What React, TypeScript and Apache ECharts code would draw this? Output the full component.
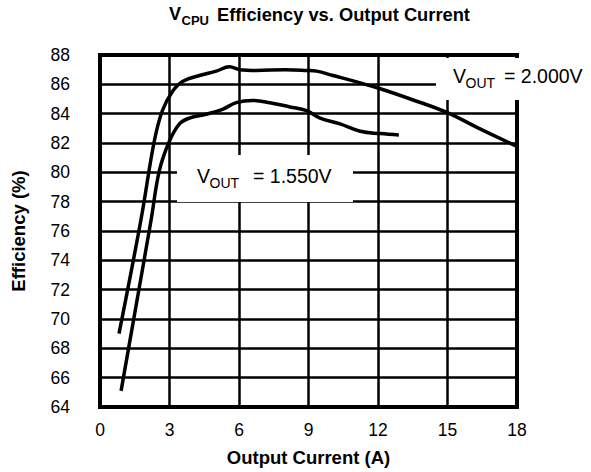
import React, { useEffect, useRef } from "react";
import * as echarts from "echarts";

// Output current (A) and efficiency (%)
const x200: number[] = [0.82, 1.76, 2.34, 2.69, 3.12, 3.56, 4.29, 5.02, 5.59, 6.03, 6.75, 8.0, 8.92, 9.35, 10.06, 11.23, 12.1, 13.4, 14.99, 16.29, 17.95];
const y200: number[] = [69.0, 76.7, 82.1, 84.2, 85.5, 86.2, 86.6, 86.9, 87.2, 87.0, 86.95, 87.0, 86.95, 86.9, 86.6, 86.1, 85.7, 85.0, 84.07, 83.05, 81.8];
const x155: number[] = [0.91, 2.2, 2.56, 2.99, 3.43, 3.86, 4.58, 5.29, 5.88, 6.59, 7.33, 8.2, 8.92, 9.5, 10.36, 11.23, 12.1, 12.9];
const y155: number[] = [65.1, 76.7, 80.1, 82.1, 83.3, 83.7, 83.96, 84.3, 84.75, 84.9, 84.75, 84.46, 84.2, 83.7, 83.3, 82.8, 82.64, 82.55];

const xTicks: number[] = [0, 3, 6, 9, 12, 15, 18];
const yTicks: number[] = [64, 66, 68, 70, 72, 74, 76, 78, 80, 82, 84, 86, 88];

const FONT = "'Liberation Sans', Arial, Helvetica, sans-serif";

function pairs(xs: number[], ys: number[]): number[][] {
  return xs.map((x, i) => [x, ys[i]]);
}

function annotation(x: number, y: number, w: number, h: number, vx: number, eqx: number, value: string) {
  return {
    type: "group",
    x,
    y,
    z: 100,
    children: [
      { type: "rect", shape: { x: 0, y: 0, width: w, height: h }, style: { fill: "#fff" }, z: 100 },
      { type: "text", x: vx, y: h / 2 + 7, style: { text: "V", font: `19.5px ${FONT}`, fill: "#000", textVerticalAlign: "bottom" }, z: 101 },
      { type: "text", x: vx + 12.5, y: h / 2 + 11, style: { text: "OUT", font: `14px ${FONT}`, fill: "#000", textVerticalAlign: "bottom" }, z: 101 },
      { type: "text", x: eqx, y: h / 2 + 7, style: { text: value, font: `19.5px ${FONT}`, fill: "#000", textVerticalAlign: "bottom" }, z: 101 },
    ],
  };
}

export default function App() {
  const ref = useRef<HTMLDivElement>(null);
  useEffect(() => {
    if (!ref.current) return;
    const chart = echarts.init(ref.current, null, { renderer: "svg" });
    const option = {
      animation: false,
      backgroundColor: "#fff",
      grid: { left: 100, right: 74, top: 55, bottom: 64, show: true, borderColor: "#000", borderWidth: 4, backgroundColor: "transparent" },
      xAxis: {
        type: "value",
        min: xTicks[0],
        max: xTicks[xTicks.length - 1],
        interval: 3,
        name: "Output Current (A)",
        nameLocation: "middle",
        nameGap: 41,
        nameTextStyle: { fontFamily: FONT, fontWeight: "bold", fontSize: 18.5, color: "#000" },
        axisLine: { show: false },
        axisTick: { show: false },
        axisLabel: { color: "#000", fontFamily: FONT, fontSize: 17.5, margin: 14 },
        splitLine: { show: true, lineStyle: { color: "#000", width: 2.5 } },
      },
      yAxis: {
        type: "value",
        min: yTicks[0],
        max: yTicks[yTicks.length - 1],
        interval: 2,
        name: "Efficiency (%)",
        nameLocation: "middle",
        nameGap: 72,
        nameTextStyle: { fontFamily: FONT, fontWeight: "bold", fontSize: 18.5, color: "#000" },
        axisLine: { show: false },
        axisTick: { show: false },
        axisLabel: { color: "#000", fontFamily: FONT, fontSize: 17.5, margin: 30 },
        splitLine: { show: true, lineStyle: { color: "#000", width: 2.5 } },
      },
      series: [
        {
          name: "VOUT = 2.000V",
          type: "line",
          data: pairs(x200, y200),
          smooth: 0.4,
          showSymbol: false,
          lineStyle: { color: "#000", width: 3.5 },
          z: 5,
        },
        {
          name: "VOUT = 1.550V",
          type: "line",
          data: pairs(x155, y155),
          smooth: 0.4,
          showSymbol: false,
          lineStyle: { color: "#000", width: 3.5 },
          z: 5,
        },
      ],
      graphic: [
        {
          type: "group",
          x: 169,
          y: 23,
          z: 100,
          children: [
            { type: "text", x: 0, y: 0, style: { text: "V", font: `bold 18px ${FONT}`, fill: "#000", textVerticalAlign: "bottom" } },
            { type: "text", x: 12.5, y: 4, style: { text: "CPU", font: `bold 13px ${FONT}`, fill: "#000", textVerticalAlign: "bottom" } },
            { type: "text", x: 48, y: 0, style: { text: "Efficiency vs. Output Current", font: `bold 18.3px ${FONT}`, fill: "#000", textVerticalAlign: "bottom" } },
          ],
        },
        annotation(177, 155, 176, 47, 20, 76, "= 1.550V"),
        annotation(436, 58, 160, 42, 17, 68, "= 2.000V"),
      ],
    };
    chart.setOption(option as any);
    return () => chart.dispose();
  }, []);
  return <div ref={ref} style={{ position: "fixed", left: 0, top: 0, width: 591, height: 472 }} />;
}
